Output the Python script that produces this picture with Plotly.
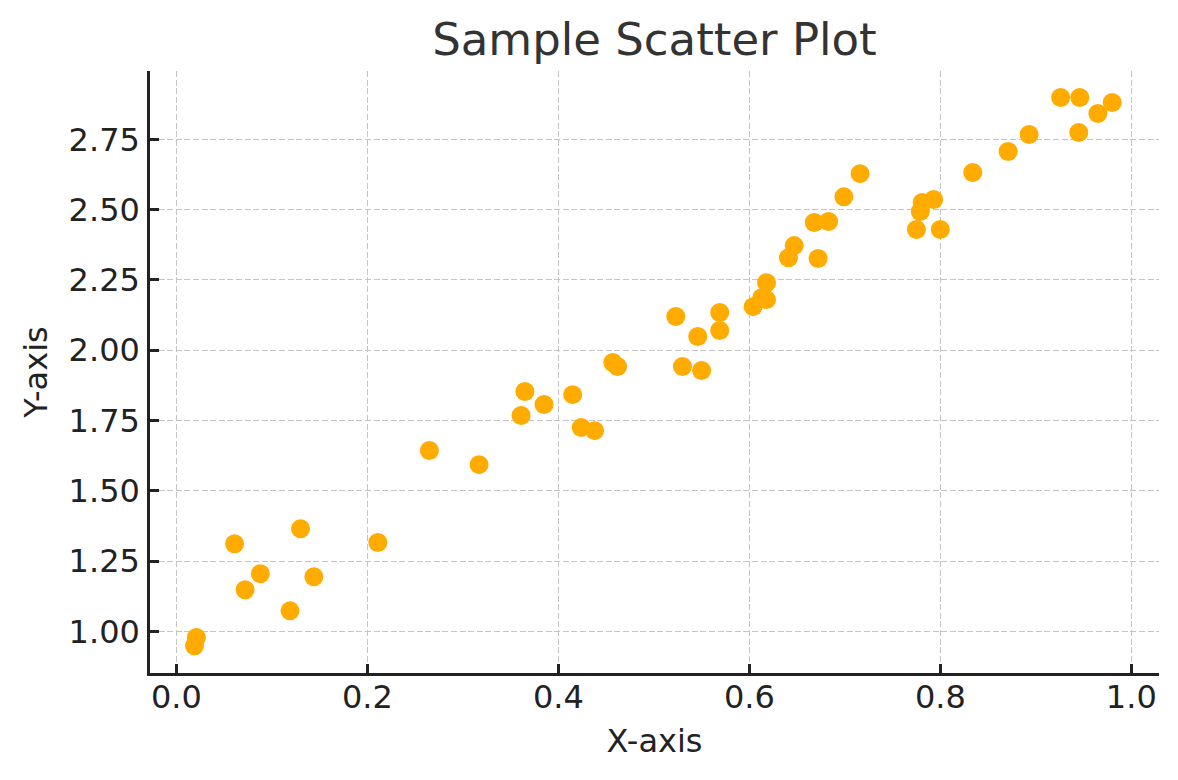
import plotly.graph_objects as go

x_values = [
    0.019, 0.021, 0.061, 0.072, 0.088, 0.119, 0.130, 0.144, 0.211, 0.265,
    0.317, 0.361, 0.365, 0.385, 0.415, 0.424, 0.438, 0.457, 0.462, 0.523,
    0.530, 0.546, 0.550, 0.569, 0.569, 0.604, 0.613, 0.618, 0.618, 0.641,
    0.647, 0.668, 0.672, 0.683, 0.699, 0.716, 0.775, 0.779, 0.781, 0.793,
    0.800, 0.834, 0.871, 0.893, 0.926, 0.946, 0.945, 0.965, 0.980,
]
y_values = [
    0.949, 0.978, 1.312, 1.148, 1.205, 1.073, 1.365, 1.194, 1.316, 1.643,
    1.593, 1.768, 1.853, 1.807, 1.842, 1.725, 1.714, 1.956, 1.942, 2.120,
    1.942, 2.049, 1.928, 2.134, 2.070, 2.155, 2.187, 2.180, 2.240, 2.329,
    2.372, 2.454, 2.326, 2.458, 2.546, 2.628, 2.429, 2.493, 2.525, 2.536,
    2.429, 2.632, 2.707, 2.767, 2.899, 2.899, 2.774, 2.842, 2.881,
]
x_ticks = [0.0, 0.2, 0.4, 0.6, 0.8, 1.0]
y_ticks = [1.00, 1.25, 1.50, 1.75, 2.00, 2.25, 2.50, 2.75]

font_name = "DejaVu Sans"

fig = go.Figure()
fig.add_trace(go.Scatter(
    x=x_values,
    y=y_values,
    mode="markers",
    marker=dict(color="#ffab00", size=19, line=dict(width=0)),
    showlegend=False,
))

axis_common = dict(
    showline=True,
    linecolor="#222222",
    linewidth=2.5,
    mirror=False,
    ticks="inside",
    ticklen=9,
    tickwidth=2.5,
    tickcolor="#222222",
    showgrid=True,
    gridcolor="#c4c4c4",
    gridwidth=1.4,
    griddash="6px,2.6px",
    zeroline=False,
    tickfont=dict(family=font_name, size=32, color="#222222"),
)

# the page body adds an 8px offset, so margins are shifted to compensate
fig.update_layout(
    width=1178,
    height=780,
    plot_bgcolor="white",
    paper_bgcolor="white",
    margin=dict(l=142, r=27, t=63, b=115),
    title=dict(
        text="Sample Scatter Plot",
        x=0.5,
        xref="paper",
        xanchor="center",
        y=0.96,
        yanchor="middle",
        font=dict(family=font_name, size=45, color="#333333"),
    ),
    xaxis=dict(
        axis_common,
        range=[-0.0276, 1.029],
        tickvals=x_ticks,
        ticktext=[f"{v:.1f}" for v in x_ticks],
        ticklabelstandoff=-6,
        title=dict(text="X-axis", standoff=15,
                   font=dict(family=font_name, size=32, color="#222222")),
    ),
    yaxis=dict(
        axis_common,
        range=[0.852, 2.993],
        tickvals=y_ticks,
        ticktext=[f"{v:.2f}" for v in y_ticks],
        ticklabelstandoff=1,
        title=dict(text="Y-axis", standoff=12,
                   font=dict(family=font_name, size=32, color="#222222")),
    ),
)

fig.write_html("out.html")
